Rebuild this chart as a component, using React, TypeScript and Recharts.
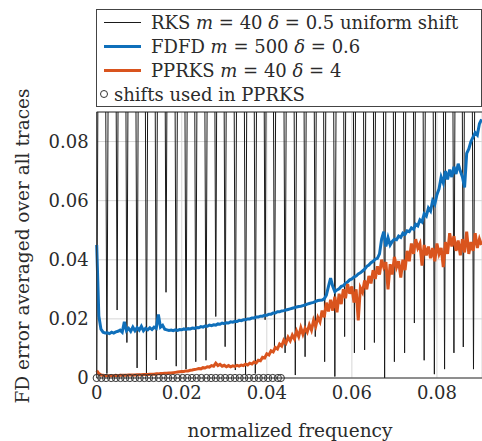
import { ComposedChart, Line, XAxis, YAxis, CartesianGrid, ReferenceLine } from 'recharts';

// frequency sampling of the FDFD / PPRKS traces
const FREQ_STEP = 0.0005;

// FDFD m = 500, delta = 0.6
const fdfdError = [
  0.0450, 0.0210, 0.0165, 0.0155, 0.0152, 0.0153, 0.0150, 0.0155, 0.0152, 0.0156,
  0.0158, 0.0162, 0.0155, 0.0190, 0.0160, 0.0168, 0.0158, 0.0172, 0.0160, 0.0170,
  0.0162, 0.0175, 0.0160, 0.0168, 0.0163, 0.0170, 0.0164, 0.0172, 0.0168, 0.0215,
  0.0172, 0.0178, 0.0165, 0.0163, 0.0161, 0.0162, 0.0160, 0.0163, 0.0161, 0.0164,
  0.0163, 0.0166, 0.0164, 0.0167, 0.0166, 0.0169, 0.0168, 0.0171, 0.0170, 0.0174,
  0.0172, 0.0176, 0.0175, 0.0179, 0.0177, 0.0180, 0.0179, 0.0183, 0.0182, 0.0186,
  0.0184, 0.0187, 0.0186, 0.0190, 0.0189, 0.0192, 0.0191, 0.0195, 0.0194, 0.0197,
  0.0197, 0.0200, 0.0200, 0.0203, 0.0203, 0.0206, 0.0206, 0.0209, 0.0209, 0.0212,
  0.0212, 0.0216, 0.0216, 0.0220, 0.0220, 0.0224, 0.0224, 0.0227, 0.0228, 0.0230,
  0.0232, 0.0234, 0.0236, 0.0238, 0.0240, 0.0242, 0.0243, 0.0245, 0.0247, 0.0250,
  0.0252, 0.0254, 0.0256, 0.0259, 0.0262, 0.0263, 0.0264, 0.0268, 0.0280, 0.0310,
  0.0338, 0.0310, 0.0292, 0.0298, 0.0302, 0.0310, 0.0312, 0.0320, 0.0325, 0.0332,
  0.0335, 0.0342, 0.0345, 0.0352, 0.0356, 0.0362, 0.0368, 0.0378, 0.0382, 0.0390,
  0.0395, 0.0402, 0.0405, 0.0420, 0.0470, 0.0495, 0.0445, 0.0475, 0.0450, 0.0462,
  0.0470, 0.0468, 0.0480, 0.0476, 0.0490, 0.0486, 0.0498, 0.0495, 0.0508, 0.0503,
  0.0520, 0.0515, 0.0535, 0.0528, 0.0555, 0.0548, 0.0575, 0.0565, 0.0600, 0.0588,
  0.0620, 0.0640, 0.0680, 0.0660, 0.0700, 0.0672, 0.0705, 0.0680, 0.0715, 0.0690,
  0.0725, 0.0700, 0.0680, 0.0645, 0.0760, 0.0775, 0.0800, 0.0815, 0.0830, 0.0822,
  0.0860, 0.0875,
];

// PPRKS m = 40, delta = 4
const pprksError = [
  0.0025, 0.0015, 0.0010, 0.0009, 0.0008, 0.0008, 0.0008, 0.0008, 0.0008, 0.0009,
  0.0008, 0.0009, 0.0009, 0.0009, 0.0009, 0.0010, 0.0010, 0.0010, 0.0010, 0.0011,
  0.0011, 0.0011, 0.0012, 0.0012, 0.0012, 0.0013, 0.0013, 0.0013, 0.0014, 0.0014,
  0.0015, 0.0015, 0.0016, 0.0016, 0.0017, 0.0017, 0.0018, 0.0019, 0.0020, 0.0021,
  0.0022, 0.0022, 0.0024, 0.0024, 0.0026, 0.0027, 0.0029, 0.0030, 0.0032, 0.0031,
  0.0035, 0.0034, 0.0038, 0.0037, 0.0042, 0.0040, 0.0050, 0.0042, 0.0046, 0.0040,
  0.0043, 0.0038, 0.0042, 0.0038, 0.0041, 0.0039, 0.0043, 0.0040, 0.0044, 0.0042,
  0.0047, 0.0044, 0.0050, 0.0047, 0.0054, 0.0051, 0.0060, 0.0058, 0.0070, 0.0068,
  0.0082, 0.0078, 0.0092, 0.0088, 0.0103, 0.0098, 0.0115, 0.0108, 0.0128, 0.0118,
  0.0138, 0.0126, 0.0145, 0.0132, 0.0158, 0.0140, 0.0170, 0.0148, 0.0168, 0.0155,
  0.0180, 0.0162, 0.0195, 0.0175, 0.0205, 0.0190, 0.0228, 0.0205, 0.0255, 0.0225,
  0.0265, 0.0228, 0.0275, 0.0222, 0.0285, 0.0250, 0.0300, 0.0270, 0.0318, 0.0285,
  0.0310, 0.0255, 0.0300, 0.0195, 0.0305, 0.0290, 0.0330, 0.0300, 0.0345, 0.0320,
  0.0365, 0.0335, 0.0378, 0.0350, 0.0400, 0.0375, 0.0392, 0.0300, 0.0385, 0.0350,
  0.0410, 0.0375, 0.0395, 0.0340, 0.0400, 0.0365, 0.0430, 0.0395, 0.0455, 0.0420,
  0.0470, 0.0440, 0.0455, 0.0380, 0.0450, 0.0415, 0.0445, 0.0405, 0.0440, 0.0395,
  0.0455, 0.0420, 0.0440, 0.0375, 0.0460, 0.0420, 0.0490, 0.0445, 0.0480, 0.0430,
  0.0465, 0.0415, 0.0470, 0.0425, 0.0495, 0.0420, 0.0460, 0.0430, 0.0490, 0.0440,
  0.0470, 0.0450,
];

// RKS m = 40, delta = 0.5 with uniform shifts: error minima at the shifts,
// large error (off the axis) in between
const rksDipFreq = [
  0.0000, 0.0024, 0.0048, 0.0071, 0.0095, 0.0117, 0.0140, 0.0163, 0.0187, 0.0210,
  0.0233, 0.0257, 0.0280, 0.0302, 0.0326, 0.0350, 0.0373, 0.0396, 0.0418, 0.0443,
  0.0467, 0.0490, 0.0514, 0.0536, 0.0560, 0.0583, 0.0606, 0.0630, 0.0653, 0.0677,
  0.0700, 0.0724, 0.0747, 0.0770, 0.0794, 0.0818, 0.0840, 0.0862, 0.0886,
];
const rksDipError = [
  0.0010, 0.0015, 0.0230, 0.0120, 0.0034, 0.0010, 0.0061, 0.0290, 0.0040, 0.0030,
  0.0055, 0.0060, 0.0208, 0.0106, 0.0027, 0.0010, 0.0015, 0.0197, 0.0100, 0.0085,
  0.0010, 0.0072, 0.0140, 0.0055, 0.0005, 0.0140, 0.0085, 0.0095, 0.0120, 0.0000,
  0.0055, 0.0085, 0.0186, 0.0060, 0.0013, 0.0030, 0.0085, 0.0105, 0.0030,
];
const rksPeakFreq = [
  0.0012, 0.0036, 0.0060, 0.0083, 0.0106, 0.0129, 0.0152, 0.0175, 0.0199, 0.0222,
  0.0245, 0.0269, 0.0291, 0.0314, 0.0338, 0.0362, 0.0385, 0.0407, 0.0431, 0.0455,
  0.0479, 0.0502, 0.0525, 0.0548, 0.0572, 0.0595, 0.0618, 0.0642, 0.0665, 0.0689,
  0.0712, 0.0736, 0.0759, 0.0782, 0.0806, 0.0829, 0.0851, 0.0874, 0.0898,
];
const RKS_PEAK = 0.4;

// shifts used in PPRKS
const shiftFreq = [
  0.0000, 0.0011, 0.0022, 0.0034, 0.0045, 0.0056, 0.0067, 0.0078, 0.0090, 0.0101,
  0.0112, 0.0123, 0.0134, 0.0146, 0.0157, 0.0168, 0.0179, 0.0190, 0.0202, 0.0213,
  0.0224, 0.0235, 0.0246, 0.0258, 0.0269, 0.0280, 0.0291, 0.0302, 0.0314, 0.0325,
  0.0336, 0.0347, 0.0358, 0.0370, 0.0381, 0.0392, 0.0403, 0.0414, 0.0426, 0.0433,
];

const xTicks = [0, 0.02, 0.04, 0.06, 0.08];
const yTicks = [0, 0.02, 0.04, 0.06, 0.08];

const FONT = '"DejaVu Serif", serif';
const BLUE = '#0f6fba';
const ORANGE = '#d9541e';
const INK = '#2b2b2b';

const fdfdData = fdfdError.map((v, i) => ({ f: i * FREQ_STEP, v }));
const pprksData = pprksError.map((v, i) => ({ f: i * FREQ_STEP, v }));
const rksData = [
  ...rksDipFreq.map((f, i) => ({ f, v: rksDipError[i] })),
  ...rksPeakFreq.map((f) => ({ f, v: RKS_PEAK })),
].sort((a, b) => a.f - b.f);
const shiftData = shiftFreq.map((f) => ({ f, v: 0 }));

const fmt = (v: number) => (v === 0 ? '0' : String(v));

const LegendRow = ({ children, sample }: { children: any; sample: any }) => (
  <div style={{ height: 24, display: 'flex', alignItems: 'center', whiteSpace: 'nowrap' }}>
    {sample}
    {children}
  </div>
);

const lineSample = (color: string, w: number) => (
  <div style={{ width: 37, marginLeft: 7, marginRight: 10, borderTop: `${w}px solid ${color}` }} />
);

export default function App() {
  return (
    <div style={{ position: 'absolute', left: 0, top: 0, width: 482, height: 441, background: '#fff' }}>
      <ComposedChart width={482} height={441} margin={{ top: 112, right: 0, bottom: 0, left: 0 }}>
        <CartesianGrid stroke="#d6d6d6" strokeWidth={1} />
        <XAxis
          dataKey="f"
          type="number"
          domain={[0, 0.0906]}
          ticks={xTicks}
          tickFormatter={fmt}
          height={63}
          tickLine={false}
          axisLine={{ stroke: '#333' }}
          tick={{ fill: INK, fontSize: 18, fontFamily: FONT }}
        />
        <YAxis
          type="number"
          domain={[0, 0.09]}
          allowDataOverflow
          ticks={yTicks}
          tickFormatter={fmt}
          width={96.7}
          tickLine={false}
          axisLine={{ stroke: '#333' }}
          tick={{ fill: INK, fontSize: 18, fontFamily: FONT }}
        />
        <YAxis yAxisId="marks" type="number" domain={[0, 0.09]} hide />
        <ReferenceLine y={0.09} stroke="#333" />
        <Line data={rksData} dataKey="v" type="linear" stroke="#1a1a1a" strokeWidth={1} dot={false} isAnimationActive={false} />
        <Line data={fdfdData} dataKey="v" type="linear" stroke={BLUE} strokeWidth={3} dot={false} isAnimationActive={false} />
        <Line data={pprksData} dataKey="v" type="linear" stroke={ORANGE} strokeWidth={3} dot={false} isAnimationActive={false} />
        <Line
          yAxisId="marks"
          data={shiftData}
          dataKey="v"
          type="linear"
          stroke="none"
          dot={{ r: 3.6, fill: 'none', stroke: '#333', strokeWidth: 1 }}
          isAnimationActive={false}
        />
      </ComposedChart>

      <div
        style={{
          position: 'absolute', left: 96, top: 9, width: 386, boxSizing: 'border-box',
          border: '1px solid #444', background: '#fff', fontFamily: FONT, fontSize: 18, color: INK,
        }}
      >
        <LegendRow sample={lineSample('#1a1a1a', 1)}>
          RKS&nbsp;<i>m</i>&nbsp;=&nbsp;40&nbsp;<i>δ</i>&nbsp;=&nbsp;0.5 uniform shift
        </LegendRow>
        <LegendRow sample={lineSample(BLUE, 3)}>
          FDFD&nbsp;<i>m</i>&nbsp;=&nbsp;500&nbsp;<i>δ</i>&nbsp;=&nbsp;0.6
        </LegendRow>
        <LegendRow sample={lineSample(ORANGE, 3)}>
          PPRKS&nbsp;<i>m</i>&nbsp;=&nbsp;40&nbsp;<i>δ</i>&nbsp;=&nbsp;4
        </LegendRow>
        <LegendRow
          sample={<div style={{ width: 6, height: 6, border: '1px solid #333', borderRadius: '50%', marginLeft: 3, marginRight: 6 }} />}
        >
          shifts used in PPRKS
        </LegendRow>
      </div>

      <div
        style={{
          position: 'absolute', left: 22, top: 246, transform: 'translate(-50%, -50%) rotate(-90deg)',
          whiteSpace: 'nowrap', fontFamily: FONT, fontSize: 18.5, color: INK,
        }}
      >
        FD error averaged over all traces
      </div>
      <div
        style={{
          position: 'absolute', left: 290, top: 430, transform: 'translate(-50%, -50%)',
          whiteSpace: 'nowrap', fontFamily: FONT, fontSize: 18.5, color: INK,
        }}
      >
        normalized frequency
      </div>
    </div>
  );
}
